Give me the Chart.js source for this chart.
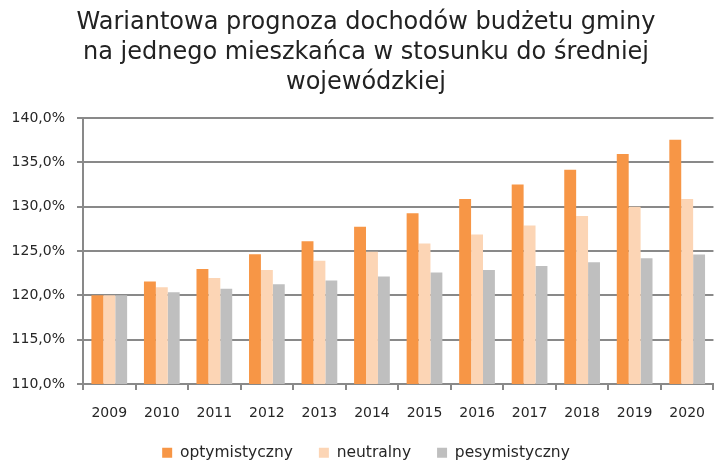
<!DOCTYPE html>
<html>
<head>
<meta charset="utf-8">
<script src="https://cdn.jsdelivr.net/npm/chart.js@4.4.0/dist/chart.umd.min.js"></script>
<style>
  html, body { margin: 0; padding: 0; background: #fff; overflow: hidden; }
  #wrap { width: 720px; height: 467px; }
</style>
</head>
<body>
<div id="wrap"><canvas id="chart"></canvas></div>
<script>
// years on the x axis
const years = ["2009", "2010", "2011", "2012", "2013", "2014", "2015", "2016", "2017", "2018", "2019", "2020"];
// variant forecasts, % of the voivodeship average
const optymistyczny = [120.0, 121.55, 122.98, 124.64, 126.11, 127.74, 129.25, 130.87, 132.5, 134.15, 135.93, 137.55];
const neutralny = [120.0, 120.9, 121.96, 122.87, 123.89, 124.91, 125.85, 126.87, 127.89, 128.94, 130.0, 130.87];
const pesymistyczny = [120.0, 120.34, 120.75, 121.25, 121.66, 122.11, 122.57, 122.87, 123.32, 123.73, 124.19, 124.6];
const titleLines = ["Wariantowa prognoza dochodów budżetu gminy", "na jednego mieszkańca w stosunku do średniej", "wojewódzkiej"];

const FONT = "'DejaVu Sans', sans-serif";
const gridCol = "#898989";
const textCol = "#262626";

const ctx = document.getElementById("chart");
new Chart(ctx, {
  type: "bar",
  data: {
    labels: years,
    datasets: [
      { label: "optymistyczny", data: optymistyczny, backgroundColor: "#F79646" },
      { label: "neutralny", data: neutralny, backgroundColor: "#FCD5B5" },
      { label: "pesymistyczny", data: pesymistyczny, backgroundColor: "#BFBFBF" },
    ],
  },
  options: {
    responsive: true,
    maintainAspectRatio: false,
    animation: false,
    layout: { padding: { left: 12, right: 0, top: 8, bottom: 0 } },
    datasets: {
      bar: { categoryPercentage: 0.68, barPercentage: 1.0 },
    },
    plugins: {
      title: {
        display: true,
        text: titleLines,
        color: "#222",
        font: { family: FONT, size: 24, weight: "normal", lineHeight: 1.25 },
        padding: { top: 0, bottom: 20 },
      },
      legend: {
        position: "bottom",
        maxHeight: 48,
        labels: {
          color: textCol,
          font: { family: FONT, size: 15.5 },
          boxWidth: 10,
          boxHeight: 10,
          padding: 26,
        },
      },
      tooltip: { enabled: false },
    },
    scales: {
      x: {
        grid: {
          offset: true,
          drawOnChartArea: false,
          drawTicks: true,
          tickLength: 6,
          color: gridCol,
          lineWidth: 2,
        },
        border: { color: gridCol, width: 2 },
        ticks: { color: textCol, font: { family: FONT, size: 14 }, padding: 15, maxRotation: 0 },
        afterFit: (scale) => { scale.height = 35; },
      },
      y: {
        min: 110,
        max: 140,
        grid: { color: gridCol, lineWidth: 2, tickLength: 6 },
        border: { color: gridCol, width: 2 },
        ticks: {
          stepSize: 5,
          color: textCol,
          font: { family: FONT, size: 14 },
          padding: 12,
          callback: (v) => v.toFixed(1).replace(".", ",") + "%",
        },
        afterFit: (scale) => { scale.width = 71; },
      },
    },
  },
});
</script>
</body>
</html>
